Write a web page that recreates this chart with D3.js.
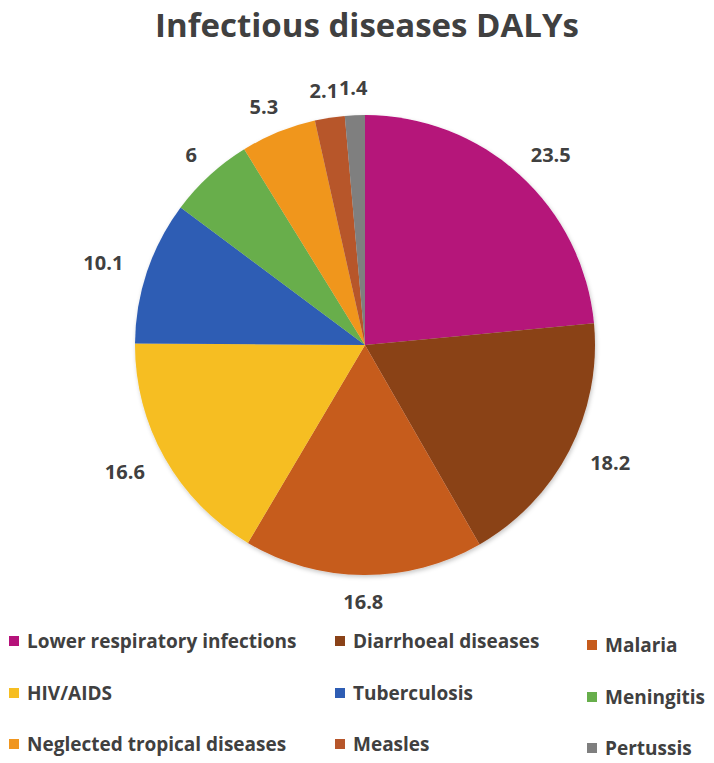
<!DOCTYPE html>
<html><head><meta charset="utf-8">
<script src="https://cdn.jsdelivr.net/npm/d3@7"></script>
<style>body{margin:0;background:#fff;}svg{display:block;}</style>
</head><body>
<svg id="chart" width="714" height="763"></svg>
<script>
const categories = ["Lower respiratory infections","Diarrhoeal diseases","Malaria","HIV/AIDS","Tuberculosis","Meningitis","Neglected tropical diseases","Measles","Pertussis"];
const values = [23.5,18.2,16.8,16.6,10.1,6,5.3,2.1,1.4];
const colors = ["#B5127A","#8A4218","#C65B1D","#F6BE22","#2E5DB4","#67AE4B","#F0961F","#B7562B","#7F7F7F"];
const title = "Infectious diseases DALYs";

const svg = d3.select("#chart");
const cx = 365, cy = 345, R = 230;
const font = "'Open Sans', Lato, sans-serif";
const textCol = "#404040";

svg.append("text").attr("x", 367).attr("y", 37).attr("text-anchor","middle")
  .attr("font-family", font).attr("font-weight", 700).attr("font-size", 33)
  .attr("fill", "#404040").text(title);

const defs = svg.append("defs");
const f = defs.append("filter").attr("id","sh").attr("x","-10%").attr("y","-10%").attr("width","120%").attr("height","120%");
f.append("feDropShadow").attr("dx",1).attr("dy",2).attr("stdDeviation",2).attr("flood-color","#000").attr("flood-opacity",0.22);

const data = categories.map((c,i)=>({name:c, value:values[i], color:colors[i]}));
const pie = d3.pie().value(d=>d.value).sort(null);
const arcs = pie(data);
const arc = d3.arc().innerRadius(0).outerRadius(R);

const g = svg.append("g").attr("transform",`translate(${cx},${cy})`);
g.append("g").attr("filter","url(#sh)").selectAll("path").data(arcs).join("path")
  .attr("d", arc).attr("fill", d=>d.data.color);

// labels at outside end
const gap = 20, hh = 7;
const lbl = g.selectAll("text.lbl").data(arcs).join("text").attr("class","lbl")
  .attr("text-anchor","middle").attr("font-family", font).attr("font-weight",700)
  .attr("font-size",20).attr("fill",textCol).attr("dy","0.35em")
  .text(d=>String(d.data.value));
lbl.each(function(d){
  const a = (d.startAngle + d.endAngle)/2;
  const s = Math.sin(a), c = -Math.cos(a);
  const hw = this.getComputedTextLength()/2;
  d3.select(this).attr("x", (R+gap)*s + 1.3*hw*s).attr("y", (R+gap)*c + hh*c);
});

// legend
const colX = [9, 335, 587];
const rowY = [641, 693, 744];
const colDy = [0, 0, 4];
const lg = svg.append("g");
data.forEach((d,i)=>{
  const col = i%3, row = Math.floor(i/3);
  const x = colX[col], y = rowY[row] + colDy[col];
  lg.append("rect").attr("x",x).attr("y",y-5).attr("width",10).attr("height",10).attr("fill",d.color);
  lg.append("text").attr("x",x+18).attr("y",y).attr("dy","0.35em")
    .attr("font-family",font).attr("font-weight",700).attr("font-size",19)
    .attr("fill",textCol).text(d.name);
});
</script>
</body></html>
